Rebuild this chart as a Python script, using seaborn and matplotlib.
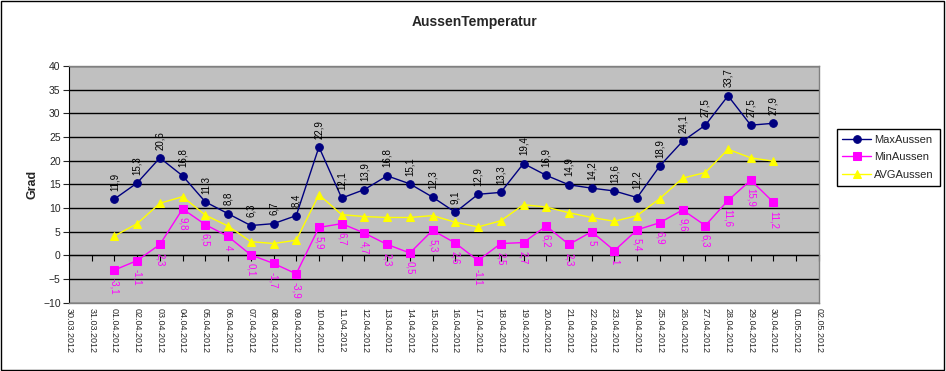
import pandas as pd
import seaborn as sns
import matplotlib.pyplot as plt
from matplotlib.patches import Rectangle

# Tagesdaten April 2012
days = pd.date_range("2012-04-01", "2012-04-30")
axis_dates = pd.date_range("2012-03-30", "2012-05-02")

max_aussen = [11.9, 15.3, 20.6, 16.8, 11.3, 8.8, 6.3, 6.7, 8.4, 22.9,
              12.1, 13.9, 16.8, 15.1, 12.3, 9.1, 12.9, 13.3, 19.4, 16.9,
              14.9, 14.2, 13.6, 12.2, 18.9, 24.1, 27.5, 33.7, 27.5, 27.9]
min_aussen = [-3.1, -1.1, 2.3, 9.8, 6.5, 4.0, 0.1, -1.7, -3.9, 5.9,
              6.7, 4.7, 2.3, 0.5, 5.3, 2.6, -1.1, 2.5, 2.7, 6.2,
              2.3, 5.0, 1.0, 5.4, 6.9, 9.6, 6.3, 11.6, 15.9, 11.2]
avg_aussen = [4.1, 6.7, 11.0, 12.4, 8.5, 6.2, 2.9, 2.5, 3.2, 12.8,
              8.6, 8.2, 8.0, 8.0, 8.4, 7.0, 6.0, 7.3, 10.7, 10.2,
              9.0, 8.0, 7.2, 8.4, 12.0, 16.3, 17.5, 22.4, 20.6, 19.9]

def fmt(v):
    return f"{v:g}".replace(".", ",")

sns.set_style("white")
plt.rcParams["font.family"] = ["Liberation Sans", "DejaVu Sans"]

fig = plt.figure(figsize=(9.46, 3.71), dpi=100)
ax = fig.add_axes([0.0729, 0.1841, 0.7928, 0.638])
ax.set_facecolor("#C0C0C0")

sns.lineplot(x=days, y=max_aussen, ax=ax, color="#000080", marker="o",
             markersize=5.5, markeredgecolor="#000080", linewidth=1, label="MaxAussen")
sns.lineplot(x=days, y=min_aussen, ax=ax, color="#FF00FF", marker="s",
             markersize=6, markeredgecolor="#FF00FF", linewidth=1, label="MinAussen")
sns.lineplot(x=days, y=avg_aussen, ax=ax, color="#FFFF00", marker="^",
             markersize=6, markeredgecolor="#FFFF00", linewidth=1, label="AVGAussen")

for d, v in zip(days, max_aussen):
    ax.annotate(fmt(v), (d, v), xytext=(0, 6), textcoords="offset points",
                rotation=90, ha="center", va="bottom", fontsize=7, color="black")
for d, v in zip(days, min_aussen):
    ax.annotate(fmt(v), (d, v), xytext=(0, -6), textcoords="offset points",
                rotation=-90, ha="center", va="top", fontsize=7, color="#FF00FF")

ax.set_ylim(-10, 40)
ax.set_yticks(range(-10, 41, 5))
ax.set_xlim(axis_dates[0], axis_dates[-1])
ax.set_xticks(axis_dates)
ax.set_xticklabels([d.strftime("%d.%m.%Y") for d in axis_dates], rotation=-90, fontsize=6.5)
ax.tick_params(axis="x", length=0, pad=4)
ax.tick_params(axis="y", length=4, direction="out", labelsize=7.5, left=True, pad=2)
ax.yaxis.grid(True, color="black", linewidth=1)
ax.set_axisbelow(True)
for s in ["top", "right", "bottom"]:
    ax.spines[s].set_color("#808080")
    ax.spines[s].set_linewidth(1)
ax.spines["left"].set_color("black")

# Achse bei 0 mit Teilstrichen
sec = ax.secondary_xaxis(0.2)
sec.set_xticks(axis_dates)
sec.tick_params(axis="x", length=4, direction="out", labelbottom=False, color="black")
sec.spines["bottom"].set_color("black")

ax.set_ylabel("Grad", fontsize=9, fontweight="bold", labelpad=3)
ax.set_xlabel("")
fig.text(0.502, 0.94, "AussenTemperatur", ha="center", va="center",
         fontsize=10, fontweight="bold")

leg = ax.legend(loc="upper left", bbox_to_anchor=(1.0235, 0.734), fontsize=8,
                frameon=True, fancybox=False, edgecolor="black", framealpha=1,
                handlelength=2.6, borderpad=0.5, labelspacing=0.7, handletextpad=0.3,
                borderaxespad=0)
leg.get_frame().set_linewidth(1)

fig.patches.append(Rectangle((0.001, 0.002), 0.997, 0.995, transform=fig.transFigure,
                             fill=False, edgecolor="black", linewidth=1))

fig.savefig("out.png", dpi=100)
